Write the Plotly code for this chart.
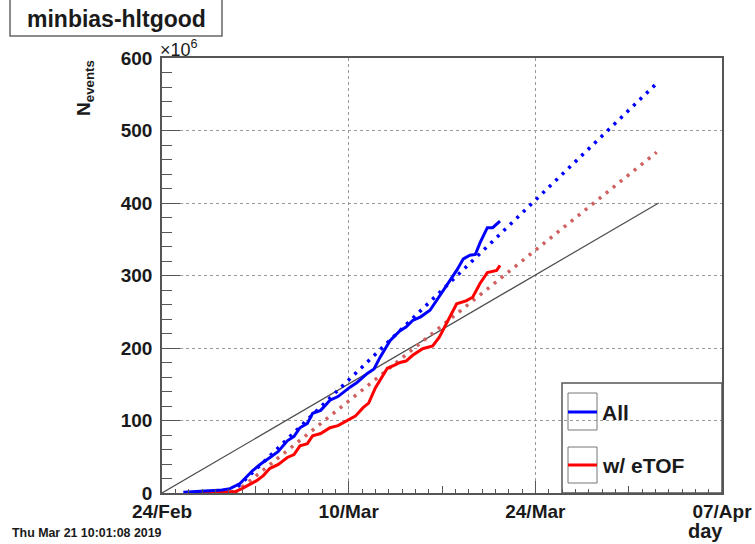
import plotly.graph_objects as go

# ---- data (days since 24/Feb/2019, events in millions) ----
days_all = [1.6, 3.0, 4.5, 5.1, 5.85, 6.8, 7.4, 8.1, 8.7, 9.4, 9.9, 10.35, 10.9, 11.3, 11.9,
            12.6, 13.2, 14.1, 14.6, 15.4, 15.9, 16.35, 17.1, 17.85, 18.3, 18.8, 19.4, 20.1,
            21.1, 22.1, 22.6, 23.1, 23.5, 23.85, 24.4, 24.8, 25.35]
n_all = [1, 2, 4, 6, 13, 31, 40, 49, 57, 72, 78, 90, 96, 110, 114,
         128, 133, 146, 152, 165, 171, 187, 210, 224, 229, 238, 243, 252,
         279, 307, 323, 328, 329, 345, 366, 366, 375]

days_etof = [2.1, 3.5, 5.0, 5.5, 6.0, 7.1, 7.6, 8.1, 8.7, 9.4, 9.9, 10.35, 10.9, 11.3, 11.9,
             12.6, 13.2, 13.9, 14.5, 15.1, 15.5, 16.0, 16.9, 17.4, 17.85, 18.3, 18.8, 19.55,
             20.3, 20.8, 21.3, 22.1, 22.8, 23.3, 23.85, 24.4, 25.1, 25.35]
n_etof = [0.5, 1, 1.5, 2, 6, 17, 24, 34, 39, 49, 53, 65, 68, 79, 82,
          90, 93, 100, 106, 118, 124, 145, 172, 176, 180, 182, 190, 199,
          203, 215, 233, 261, 265, 270, 289, 304, 307, 314]

fit_all_days = [5.2, 37.1]
fit_all = [0, 565]
fit_etof_days = [5.46, 37.1]
fit_etof = [0, 470]
target_days = [0, 37.25]
target_n = [0, 400]

x_tick_days = [0, 14, 28, 42]
x_tick_labels = ["24/Feb", "10/Mar", "24/Mar", "07/Apr"]
x_mid_ticks = [7, 21, 35]
y_ticks = [0, 100, 200, 300, 400, 500, 600]

# ---- layout helpers (pixel -> paper) ----
W, H = 755, 544
L, R, T, B = 162, 722, 58, 493
def px(x): return (x - L) / (R - L)
def py(y): return (B - y) / (B - T)

FONT = "Liberation Sans"
TXT = "#1a1a1a"
FRAME = "#555555"

fig = go.Figure()
fig.add_trace(go.Scatter(x=target_days, y=target_n, mode="lines",
                         line=dict(color="#4a4a4a", width=1.2), showlegend=False))
fig.add_trace(go.Scatter(x=fit_etof_days, y=fit_etof, mode="lines",
                         line=dict(color="#d06060", width=3.5, dash="3px,6px"), showlegend=False))
fig.add_trace(go.Scatter(x=fit_all_days, y=fit_all, mode="lines",
                         line=dict(color="#0000ff", width=3.5, dash="3px,6px"), showlegend=False))
fig.add_trace(go.Scatter(x=days_etof, y=n_etof, mode="lines",
                         line=dict(color="#ff0000", width=3), showlegend=False))
fig.add_trace(go.Scatter(x=days_all, y=n_all, mode="lines",
                         line=dict(color="#0000ff", width=3), showlegend=False))
# invisible trace carrying the medium-tick axis
fig.add_trace(go.Scatter(x=[0], y=[0], xaxis="x2", mode="none", showlegend=False,
                         hoverinfo="skip"))

tickfont = dict(family=FONT, size=19, color=TXT, weight="bold")
fig.update_layout(
    width=W, height=H, autosize=False,
    margin=dict(l=L, r=W - R, t=T, b=H - B, pad=0, autoexpand=False),
    paper_bgcolor="white", plot_bgcolor="white",
    xaxis=dict(range=[0, 42], tickmode="array", tickvals=x_tick_days, ticktext=x_tick_labels,
               ticks="inside", ticklen=12, tickcolor=FRAME, tickwidth=1, automargin=False,
               showline=True, mirror=True, linecolor=FRAME, linewidth=1.5,
               showgrid=True, gridcolor="#9a9a9a", griddash="dot", gridwidth=1,
               zeroline=False, tickfont=tickfont,
               minor=dict(dtick=1, tick0=0, ticks="inside", ticklen=4, tickcolor=FRAME,
                          showgrid=False)),
    xaxis2=dict(range=[0, 42], overlaying="x", anchor="y", side="bottom", automargin=False,
                tickmode="array", tickvals=x_mid_ticks, ticks="inside", ticklen=7,
                tickcolor=FRAME, showticklabels=False, showgrid=False, zeroline=False,
                showline=False),
    yaxis=dict(range=[0, 600], tickmode="array", tickvals=y_ticks, automargin=False,
               ticks="inside", ticklen=18, tickcolor=FRAME, tickwidth=1,
               showline=True, mirror=True, linecolor=FRAME, linewidth=1.5,
               showgrid=True, gridcolor="#9a9a9a", griddash="dot", gridwidth=1,
               zeroline=False, tickfont=tickfont, ticklabelstandoff=4,
               minor=dict(dtick=20, tick0=0, ticks="inside", ticklen=10, tickcolor=FRAME,
                          showgrid=False)),
)

shapes = [
    # title box
    dict(type="rect", xref="paper", yref="paper", x0=px(10), x1=px(222), y0=py(36), y1=py(-3),
         line=dict(color="#666666", width=1.5), fillcolor="rgba(0,0,0,0)"),
    # legend box
    dict(type="rect", xref="paper", yref="paper", x0=px(562), x1=px(722), y0=py(493), y1=py(383),
         line=dict(color=FRAME, width=1.5), fillcolor="rgba(0,0,0,0)"),
    dict(type="rect", xref="paper", yref="paper", x0=px(568), x1=px(597), y0=py(430), y1=py(393),
         line=dict(color="#777777", width=1), fillcolor="rgba(0,0,0,0)"),
    dict(type="rect", xref="paper", yref="paper", x0=px(568), x1=px(597), y0=py(483), y1=py(447),
         line=dict(color="#777777", width=1), fillcolor="rgba(0,0,0,0)"),
    dict(type="line", xref="paper", yref="paper", x0=px(568), x1=px(597), y0=py(412), y1=py(412),
         line=dict(color="#0000ff", width=3)),
    dict(type="line", xref="paper", yref="paper", x0=px(568), x1=px(597), y0=py(465), y1=py(465),
         line=dict(color="#ff0000", width=3)),
]
fig.update_layout(shapes=shapes)

def ann(text, x, y, size, xanchor="center", yanchor="middle", angle=0, bold=True):
    fig.add_annotation(text=text, xref="paper", yref="paper", x=px(x), y=py(y),
                       xanchor=xanchor, yanchor=yanchor, showarrow=False, textangle=angle,
                       font=dict(family=FONT, size=size, color=TXT,
                                 weight="bold" if bold else "normal"))

ann("minbias-hltgood", 116, 19, 23)
ann("×10<sup>6</sup>", 158, 49, 18, xanchor="left", bold=False)
ann("N<sub>events</sub>", 85, 88, 19, angle=-90)
ann("day", 705, 531, 20)
ann("Thu Mar 21 10:01:08 2019", 10, 533, 12.4, xanchor="left")
ann("All", 600, 412, 21, xanchor="left")
ann("w/ eTOF", 600, 465, 21, xanchor="left")

fig.write_html("out.html", config={"displayModeBar": False},
               post_script="document.body.style.margin='0px';document.body.style.overflow='hidden';")
